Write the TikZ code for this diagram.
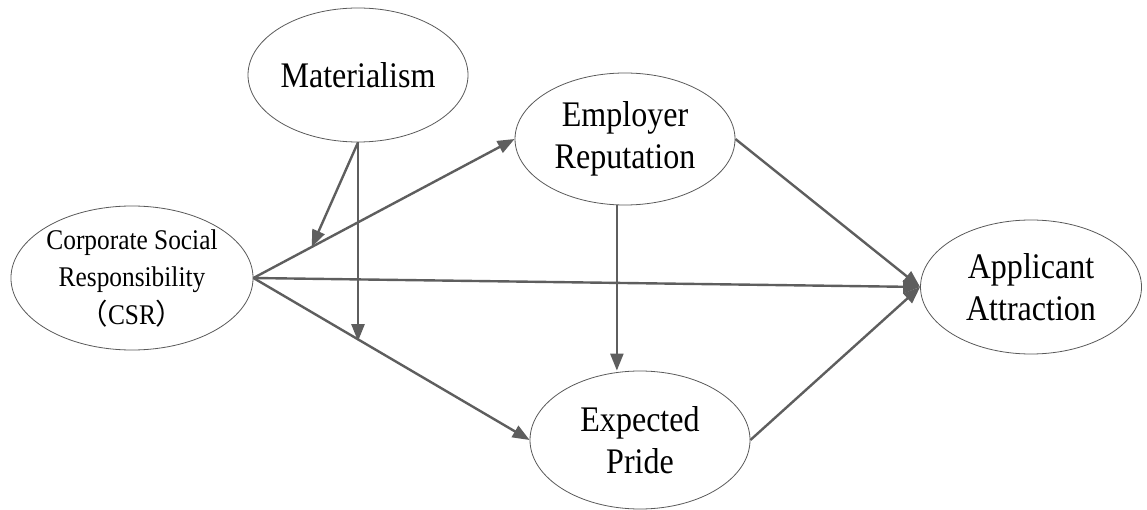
\documentclass[tikz,border=0pt]{standalone}
\usepackage{fontspec}
\setmainfont{Liberation Serif}[FakeStretch=0.89]
\newfontfamily\cjk{Noto Sans CJK SC}
\usetikzlibrary{shapes.geometric,arrows.meta,calc}
\definecolor{arrgray}{HTML}{5E5E5E}
\tikzset{
  latent/.style={ellipse, draw=black!65, line width=0.8pt, inner sep=0pt, align=center,
    font=\fontsize{36}{42}\selectfont, minimum width=220pt, minimum height=134pt},
  arr/.style={draw=arrgray, line width=2.4pt, -{Triangle[length=17pt,width=13pt]}},
}
\begin{document}
\begin{tikzpicture}[x=1pt,y=-1pt]
\useasboundingbox (0,0) rectangle (1147,510);
\node[latent] (mat) at (358,75) {Materialism};
\node[latent, minimum width=234pt, minimum height=144pt, font=\fontsize{28.5}{37.5}\selectfont] (csr) at (132,278)
  {Corporate Social\\Responsibility\\{\cjk （}CSR{\cjk ）}};
\node[latent, minimum height=132pt] (emp) at (625,139) {Employer\\Reputation};
\node[latent, minimum height=138pt] (exp) at (640,440) {Expected\\Pride};
\node[latent, minimum width=221pt] (app) at (1031,287) {Applicant\\Attraction};
\coordinate (m1) at ($(csr.east)!0.223!(emp.west)$);
\coordinate (m2) at ($(csr.east)!0.39!(exp.west)$);
\draw[arr] (csr.east) -- (emp.west);
\draw[arr] (csr.east) -- (exp.west);
\draw[arr] (csr.east) -- (app.west);
\draw[arr] (emp.east) -- (app.west);
\draw[arr] (exp.east) -- (app.west);
\draw[arr] (emp.-97) -- (emp.-97 |- exp.north);
\draw[arr] (mat.south) -- (m1);
\draw[arr] (mat.south) -- (mat.south |- m2);
\end{tikzpicture}
\end{document}
